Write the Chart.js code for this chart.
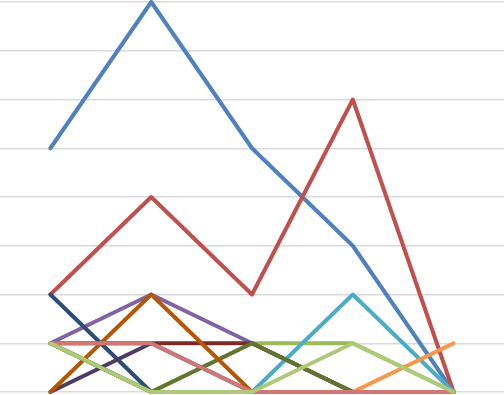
<!DOCTYPE html>
<html>
<head>
<meta charset="utf-8">
<script src="https://cdn.jsdelivr.net/npm/chart.js@4/dist/chart.umd.min.js"></script>
<style>
  html, body { margin: 0; padding: 0; background: #fff; }
  #wrap { width: 504px; height: 395px; }
</style>
</head>
<body>
<div id="wrap"><canvas id="lineChart" width="504" height="395"></canvas></div>
<script>
// Categories and series values
const categories = ['1', '2', '3', '4', '5'];
const yTicks = [0, 1, 2, 3, 4, 5, 6, 7, 8];

const blue       = [5, 8, 5, 3, 0];
const red        = [2, 4, 2, 6, 0];
const green      = [1, 0, 1, 1, 0];
const purple     = [1, 2, 1, 0, 0];
const aqua       = [1, 0, 0, 2, 0];
const orange     = [1, 0, 0, 0, 1];
const darkBlue   = [2, 0, 0, 0, 0];
const darkRed    = [1, 1, 1, 0, 0];
const darkGreen  = [1, 0, 1, 0, 0];
const darkPurple = [0, 1, 0, 0, 0];
const darkOrange = [0, 2, 0, 0, 0];
const pink       = [1, 1, 0, 0, 0];
const lightGreen = [1, 0, 0, 1, 0];

const series = [
  { data: blue,       color: '#4F81BD' },
  { data: red,        color: '#C0504D' },
  { data: green,      color: '#9BBB59' },
  { data: purple,     color: '#8064A2' },
  { data: aqua,       color: '#4BACC6' },
  { data: orange,     color: '#F79646' },
  { data: darkBlue,   color: '#2C4D75' },
  { data: darkRed,    color: '#772C2A' },
  { data: darkGreen,  color: '#5F7530' },
  { data: darkPurple, color: '#4D3B62' },
  { data: darkOrange, color: '#B65708' },
  { data: pink,       color: '#D07876' },
  { data: lightGreen, color: '#AFC97A' }
];

function initLineChart() {
  const ctx = document.getElementById('lineChart');
  if (!ctx) return;

  // later series drawn on top (like the original)
  const datasets = series.map((s, i) => ({
    label: 'Series ' + (i + 1),
    data: s.data,
    borderColor: s.color,
    backgroundColor: s.color,
    borderWidth: 4,
    pointRadius: 0,
    tension: 0,
    fill: false,
    clip: false,
    borderJoinStyle: 'round',
    borderCapStyle: 'round',
    order: series.length - i
  }));

  new Chart(ctx, {
    type: 'line',
    data: { labels: categories, datasets: datasets },
    options: {
      responsive: false,
      animation: false,
      layout: { padding: { top: 2, bottom: 3, left: 0, right: 0 } },
      plugins: {
        legend: { display: false },
        tooltip: { enabled: false }
      },
      scales: {
        x: {
          display: false,
          offset: true
        },
        y: {
          min: yTicks[0],
          max: yTicks[yTicks.length - 1],
          afterBuildTicks: function(axis) {
            axis.ticks = yTicks.map(v => ({ value: v }));
          },
          border: { display: false },
          grid: {
            color: '#d9d9d9',
            lineWidth: 1.5,
            drawTicks: false
          },
          ticks: { display: false }
        }
      }
    }
  });
}

window.addEventListener('load', function() {
  initLineChart();
});
</script>
</body>
</html>
